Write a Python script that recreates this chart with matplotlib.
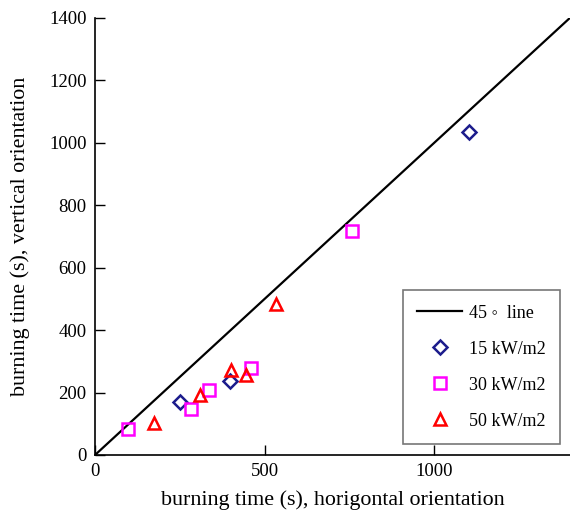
import matplotlib
matplotlib.use("Agg")
import matplotlib.pyplot as plt

plt.rcParams['font.family'] = ['Liberation Serif', 'DejaVu Serif']

# 45 degree reference line
line_x = [0, 1400]
line_y = [0, 1400]

# 15 kW/m2
x15 = [250, 397, 1103]
y15 = [170, 237, 1034]

# 30 kW/m2
x30 = [98, 282, 335, 461, 757]
y30 = [83, 146, 208, 278, 719]

# 50 kW/m2
x50 = [174, 309, 402, 444, 534]
y50 = [104, 192, 272, 256, 484]

fig = plt.figure(figsize=(5.7, 5.11), dpi=100)
ax = fig.add_axes([0.1667, 0.1096, 0.833, 0.8552])

ax.plot(line_x, line_y, color='black', lw=1.6, label='45 ◦  line')
ax.plot(x15, y15, ls='none', marker='D', ms=7, mfc='none', mec='#1c1c8c', mew=1.8,
        label='15 kW/m2')
ax.plot(x30, y30, ls='none', marker='s', ms=8, mfc='none', mec='#ff00ff', mew=1.8,
        label='30 kW/m2')
ax.plot(x50, y50, ls='none', marker='^', ms=9, mfc='none', mec='#ff0000', mew=1.8,
        label='50 kW/m2')

ax.set_xlim(0, 1400)
ax.set_ylim(0, 1400)
ax.set_xticks([0, 500, 1000])
ax.set_yticks(range(0, 1401, 200))
ax.spines['top'].set_visible(False)
ax.spines['right'].set_visible(False)
ax.spines['left'].set_linewidth(1.2)
ax.spines['bottom'].set_linewidth(1.2)
ax.tick_params(direction='in', length=7, width=1, labelsize=13.5, pad=6)

ax.set_xlabel('burning time (s), horigontal orientation', fontsize=15.8, labelpad=7)
ax.set_ylabel('burning time (s), vertical orientation', fontsize=15.8, labelpad=14)

leg = ax.legend(loc='lower right', bbox_to_anchor=(0.979, 0.025), fontsize=13,
                frameon=True, fancybox=False, edgecolor='#555555',
                borderpad=0.8, labelspacing=1.05, handlelength=2.5, handletextpad=0.35,
                borderaxespad=0)
leg.get_frame().set_linewidth(1.2)

fig.savefig('out.png', dpi=100)
